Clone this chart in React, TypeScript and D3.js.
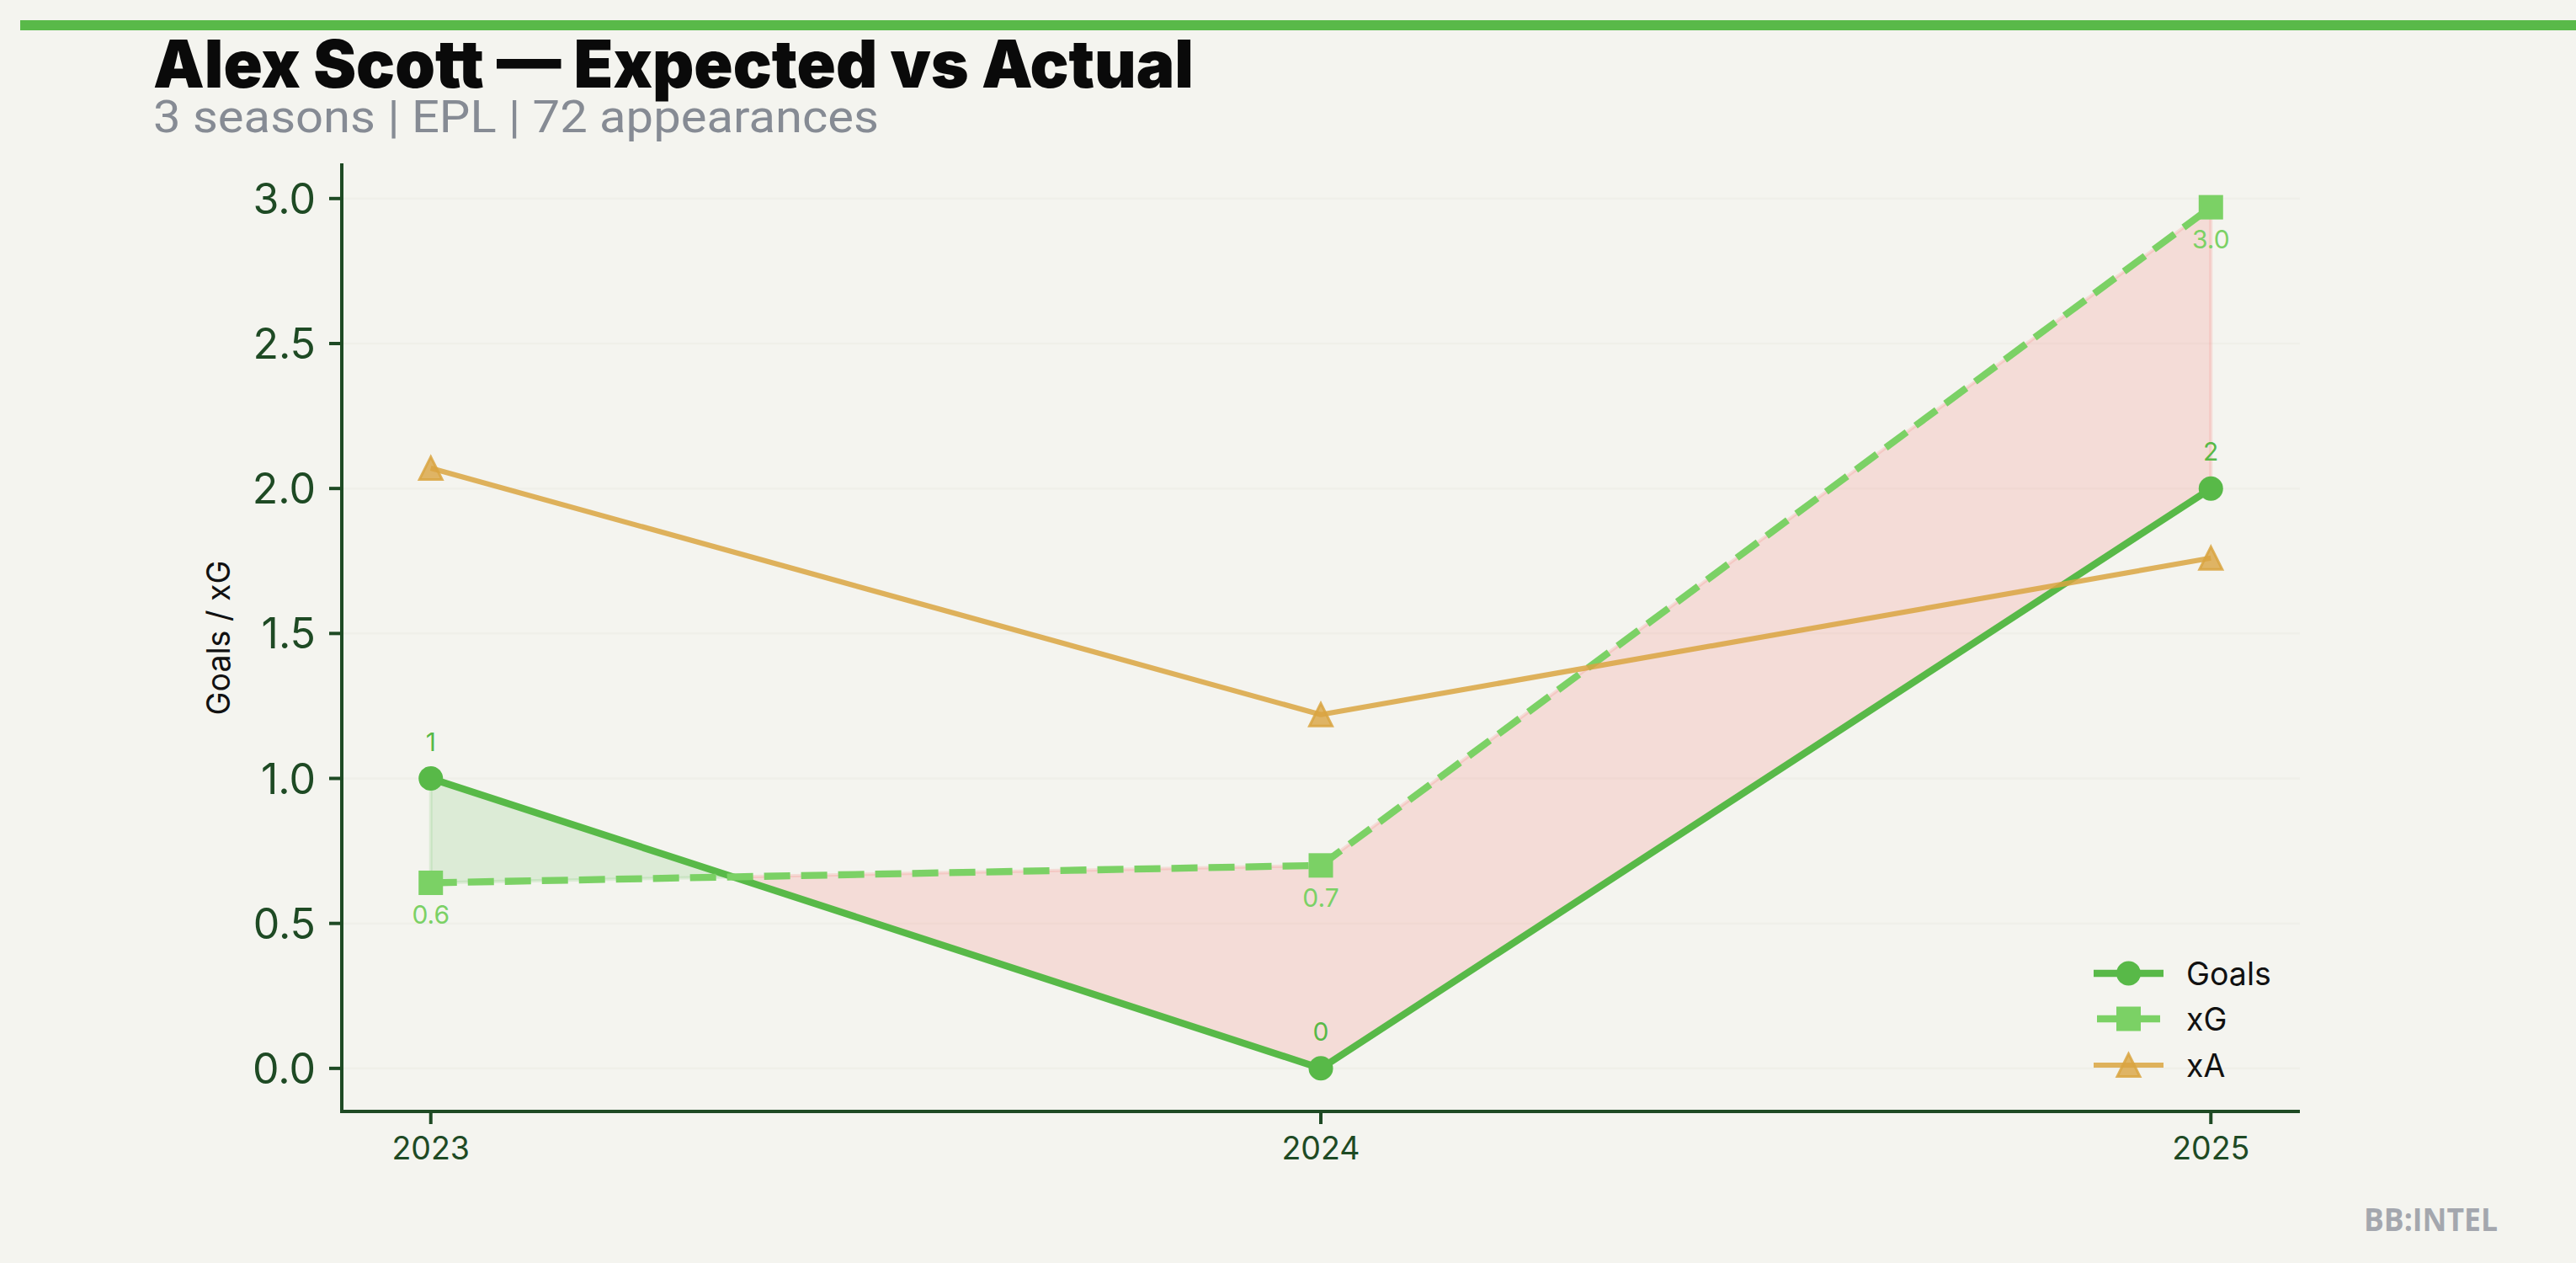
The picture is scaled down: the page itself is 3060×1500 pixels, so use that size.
import React from "react";
import * as d3 from "d3";

const seasons = [2023, 2024, 2025];
const goals = [1, 0, 2];
const xG = [0.64, 0.7, 2.97];
const xA = [2.07, 1.22, 1.76];
const yTicks = [0, 0.5, 1, 1.5, 2, 2.5, 3];

const W = 3060;
const H = 1500;
const BG = "#f4f4ef";
const GOALS_C = "#58b948";
const XG_C = "#7bd165";
const XA_C = "#d9a441";
const AXIS_C = "#1e4a24";
const RED = "#fb5652";

const left = 406, right = 2732, top = 195, bottom = 1320;

type P = { x: number; g: number; e: number };

function regions() {
  const out: { pos: boolean; pts: P[] }[] = [];
  let cur = { pos: goals[0] >= xG[0], pts: [{ x: seasons[0], g: goals[0], e: xG[0] }] as P[] };
  for (let i = 1; i < seasons.length; i++) {
    const d0 = goals[i - 1] - xG[i - 1];
    const d1 = goals[i] - xG[i];
    if (d0 >= 0 !== d1 >= 0) {
      const t = d0 / (d0 - d1);
      const xx = seasons[i - 1] + t * (seasons[i] - seasons[i - 1]);
      const gg = goals[i - 1] + t * (goals[i] - goals[i - 1]);
      const pt = { x: xx, g: gg, e: gg };
      cur.pts.push(pt);
      out.push(cur);
      cur = { pos: d1 >= 0, pts: [pt] };
    }
    cur.pts.push({ x: seasons[i], g: goals[i], e: xG[i] });
  }
  out.push(cur);
  return out;
}

function tri(cx: number, cy: number, h: number) {
  return `M${cx},${cy - h}L${cx - h},${cy + h}L${cx + h},${cy + h}Z`;
}

export default function App() {
  React.useEffect(() => {
    document.body.style.margin = "0";
    document.body.style.background = BG;
  }, []);

  const x = d3.scaleLinear().domain([2022.9, 2025.1]).range([left, right]);
  const all = [...goals, ...xG, ...xA];
  const mn = d3.min(all)!, mx = d3.max(all)!;
  const pad = (mx - mn) * 0.05;
  const y = d3.scaleLinear().domain([mn - pad, mx + pad]).range([bottom, top]);

  const area = d3
    .area<P>()
    .x((p) => x(p.x))
    .y0((p) => y(p.e))
    .y1((p) => y(p.g));
  const line = d3
    .line<number>()
    .x((_, i) => x(seasons[i]))
    .y((v) => y(v));

  const regs = regions();
  const font = "Inter, 'Noto Sans', sans-serif";

  return (
    <svg width={W} height={H} style={{ position: "absolute", left: 0, top: 0, display: "block" }}>
      <rect x={0} y={0} width={W} height={H} fill={BG} />
      <rect x={24} y={24} width={W - 24} height={12} fill="#59b949" />

      <text x={182} y={104} fontFamily={font} fontWeight={900} fontSize={78} fill="#0a0a0a"
        textLength={1236} lengthAdjust="spacingAndGlyphs">
        Alex Scott — Expected vs Actual
      </text>
      <text x={182} y={157} fontFamily="Roboto, sans-serif" fontSize={54} fill="#868b94"
        textLength={862} lengthAdjust="spacingAndGlyphs">
        3 seasons | EPL | 72 appearances
      </text>

      {/* grid */}
      {yTicks.map((t) => (
        <line key={"g" + t} x1={left} x2={right} y1={y(t)} y2={y(t)} stroke="#efefe9" strokeWidth={2.5} />
      ))}

      {/* fills */}
      {regs.map((r, i) => (
        <path key={"f" + i} d={area(r.pts)!} fill={r.pos ? GOALS_C : RED} fillOpacity={0.15}
          stroke={r.pos ? GOALS_C : RED} strokeOpacity={0.15} strokeWidth={4} />
      ))}

      {/* lines */}
      <path d={line(goals)!} fill="none" stroke={GOALS_C} strokeWidth={8.3} strokeLinejoin="round" />
      <path d={line(xG)!} fill="none" stroke={XG_C} strokeWidth={8.3} strokeDasharray="31,13" />
      <path d={line(xA)!} fill="none" stroke={XA_C} strokeOpacity={0.85} strokeWidth={6.2} strokeLinejoin="round" />

      {/* markers */}
      {goals.map((v, i) => (
        <circle key={"gm" + i} cx={x(seasons[i])} cy={y(v)} r={14.5} fill={GOALS_C} />
      ))}
      {xG.map((v, i) => (
        <rect key={"xm" + i} x={x(seasons[i]) - 14.5} y={y(v) - 14.5} width={29} height={29} fill={XG_C} />
      ))}
      {xA.map((v, i) => (
        <path key={"am" + i} d={tri(x(seasons[i]), y(v), 13.5)} fill={XA_C} fillOpacity={0.8}
          stroke={XA_C} strokeOpacity={0.85} strokeWidth={3} strokeLinejoin="miter" />
      ))}

      {/* data labels */}
      {goals.map((v, i) => (
        <text key={"gl" + i} x={x(seasons[i])} y={y(v) - 33} textAnchor="middle" fontFamily={font}
          fontSize={30} fill={GOALS_C}>
          {d3.format("d")(v)}
        </text>
      ))}
      {xG.map((v, i) => (
        <text key={"xl" + i} x={x(seasons[i])} y={y(v) + 49} textAnchor="middle" fontFamily={font}
          fontSize={30} fill={XG_C}>
          {d3.format(".1f")(v)}
        </text>
      ))}

      {/* axes */}
      <line x1={left} x2={left} y1={top - 1} y2={bottom + 2} stroke={AXIS_C} strokeWidth={4} />
      <line x1={left - 2} x2={right} y1={bottom} y2={bottom} stroke={AXIS_C} strokeWidth={4} />
      {yTicks.map((t) => (
        <g key={"yt" + t}>
          <line x1={left - 15} x2={left} y1={y(t)} y2={y(t)} stroke={AXIS_C} strokeWidth={4} />
          <text x={375} y={y(t)} dy={18} textAnchor="end" fontFamily={font} fontSize={50} fill={AXIS_C}>
            {d3.format(".1f")(t)}
          </text>
        </g>
      ))}
      {seasons.map((s) => (
        <g key={"xt" + s}>
          <line x1={x(s)} x2={x(s)} y1={bottom} y2={bottom + 15} stroke={AXIS_C} strokeWidth={4} />
          <text x={x(s)} y={1377} textAnchor="middle" fontFamily={font} fontSize={37.5} fill={AXIS_C}>
            {s}
          </text>
        </g>
      ))}
      <text transform={`translate(273, ${(top + bottom) / 2}) rotate(-90)`} textAnchor="middle"
        fontFamily={font} fontSize={37.5} fill="#111">
        Goals / xG
      </text>

      {/* legend */}
      <g>
        <line x1={2487} x2={2570} y1={1156} y2={1156} stroke={GOALS_C} strokeWidth={8.3} />
        <circle cx={2528.5} cy={1156} r={14.5} fill={GOALS_C} />
        <text x={2597} y={1156} dy={13.5} fontFamily={font} fontSize={37.5} fill="#111">Goals</text>

        <line x1={2491} x2={2566} y1={1210} y2={1210} stroke={XG_C} strokeWidth={8.3} />
        <rect x={2514} y={1195.5} width={29} height={29} fill={XG_C} />
        <text x={2597} y={1210} dy={13.5} fontFamily={font} fontSize={37.5} fill="#111">xG</text>

        <line x1={2487} x2={2570} y1={1265} y2={1265} stroke={XA_C} strokeOpacity={0.85} strokeWidth={6.2} />
        <path d={tri(2528.5, 1265, 13.5)} fill={XA_C} fillOpacity={0.8} stroke={XA_C} strokeOpacity={0.85} strokeWidth={3} />
        <text x={2597} y={1265} dy={13.5} fontFamily={font} fontSize={37.5} fill="#111">xA</text>
      </g>

      <text x={2967} y={1462} textAnchor="end" fontFamily="'Open Sans', sans-serif" fontWeight={700}
        fontSize={38} fill="#a4a7ae" textLength={159} lengthAdjust="spacingAndGlyphs">
        BB:INTEL
      </text>
    </svg>
  );
}
